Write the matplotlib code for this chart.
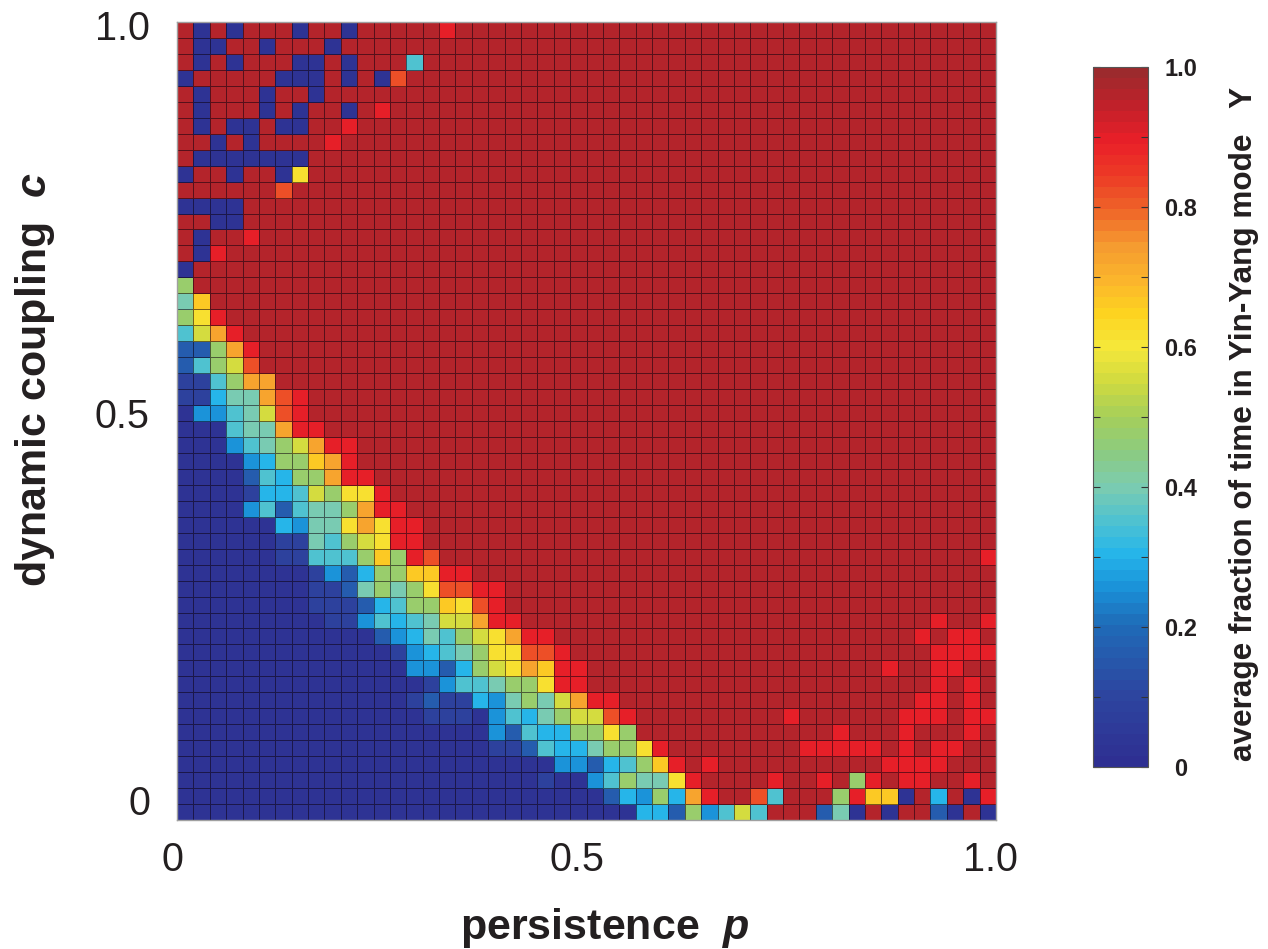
import numpy as np
import matplotlib
matplotlib.use("Agg")
import matplotlib.pyplot as plt
from matplotlib.colors import LinearSegmentedColormap

plt.rcParams['font.family'] = ['Liberation Sans', 'DejaVu Sans']
plt.rcParams['mathtext.fontset'] = 'custom'
plt.rcParams['mathtext.bfit'] = 'Liberation Sans:italic:bold'

# value of each letter used in the rows below
LEVELS = {
    "B": 0.02, "b": 0.08, "m": 0.17, "c": 0.26, "s": 0.30, "t": 0.35, "g": 0.40, "l": 0.48,
    "y": 0.55, "Y": 0.62, "o": 0.67, "O": 0.73, "e": 0.82, "r": 0.90, "R": 0.955,
}

# rows from c = 1.0 (top) down to c = 0, 50 columns in groups of ten
Y_ROWS = [
    "RBRBRRRBRR BRRRRRrRRR RRRRRRRRRR RRRRRRRRRR RRRRRRRRRR",
    "RBBRRBRRRB RRRRRRRRRR RRRRRRRRRR RRRRRRRRRR RRRRRRRRRR",
    "RBRBRRRBBR BRRRtRRRRR RRRRRRRRRR RRRRRRRRRR RRRRRRRRRR",
    "BRRRRRBBBR BRBeRRRRRR RRRRRRRRRR RRRRRRRRRR RRRRRRRRRR",
    "RBRRRBRRBR RRRRRRRRRR RRRRRRRRRR RRRRRRRRRR RRRRRRRRRR",
    "RBRRRBRBRR BRrRRRRRRR RRRRRRRRRR RRRRRRRRRR RRRRRRRRRR",
    "RBRBBRBBRR rRRRRRRRRR RRRRRRRRRR RRRRRRRRRR RRRRRRRRRR",
    "RRBRBRRRRr RRRRRRRRRR RRRRRRRRRR RRRRRRRRRR RRRRRRRRRR",
    "RBBBBBBBRR RRRRRRRRRR RRRRRRRRRR RRRRRRRRRR RRRRRRRRRR",
    "BRRBRRBYRR RRRRRRRRRR RRRRRRRRRR RRRRRRRRRR RRRRRRRRRR",
    "RRRRRReRRR RRRRRRRRRR RRRRRRRRRR RRRRRRRRRR RRRRRRRRRR",
    "BBBBRRRRRR RRRRRRRRRR RRRRRRRRRR RRRRRRRRRR RRRRRRRRRR",
    "RRBBRRRRRR RRRRRRRRRR RRRRRRRRRR RRRRRRRRRR RRRRRRRRRR",
    "RBRRrRRRRR RRRRRRRRRR RRRRRRRRRR RRRRRRRRRR RRRRRRRRRR",
    "RBrRRRRRRR RRRRRRRRRR RRRRRRRRRR RRRRRRRRRR RRRRRRRRRR",
    "BRRRRRRRRR RRRRRRRRRR RRRRRRRRRR RRRRRRRRRR RRRRRRRRRR",
    "lRRRRRRRRR RRRRRRRRRR RRRRRRRRRR RRRRRRRRRR RRRRRRRRRR",
    "goRRRRRRRR RRRRRRRRRR RRRRRRRRRR RRRRRRRRRR RRRRRRRRRR",
    "lYrRRRRRRR RRRRRRRRRR RRRRRRRRRR RRRRRRRRRR RRRRRRRRRR",
    "tyOrRRRRRR RRRRRRRRRR RRRRRRRRRR RRRRRRRRRR RRRRRRRRRR",
    "mmlOrRRRRR RRRRRRRRRR RRRRRRRRRR RRRRRRRRRR RRRRRRRRRR",
    "mtlyeRRRRR RRRRRRRRRR RRRRRRRRRR RRRRRRRRRR RRRRRRRRRR",
    "bbtlOORRRR RRRRRRRRRR RRRRRRRRRR RRRRRRRRRR RRRRRRRRRR",
    "bbsggOerRR RRRRRRRRRR RRRRRRRRRR RRRRRRRRRR RRRRRRRRRR",
    "BcctgyerRR RRRRRRRRRR RRRRRRRRRR RRRRRRRRRR RRRRRRRRRR",
    "BBBtggOrrR RRRRRRRRRR RRRRRRRRRR RRRRRRRRRR RRRRRRRRRR",
    "BBBctglyOr rRRRRRRRRR RRRRRRRRRR RRRRRRRRRR RRRRRRRRRR",
    "BBBBcslloO rRRRRRRRRR RRRRRRRRRR RRRRRRRRRR RRRRRRRRRR",
    "BBBBmtsllO rrRRRRRRRR RRRRRRRRRR RRRRRRRRRR RRRRRRRRRR",
    "BBBBbsstyl YYrRRRRRRR RRRRRRRRRR RRRRRRRRRR RRRRRRRRRR",
    "BBBBctmtgg lOrrRRRRRR RRRRRRRRRR RRRRRRRRRR RRRRRRRRRR",
    "BBBBBBscgg YOYrrRRRRR RRRRRRRRRR RRRRRRRRRR RRRRRRRRRR",
    "BBBBBBbbgt lyYrrRRRRR RRRRRRRRRR RRRRRRRRRR RRRRRRRRRR",
    "BBBBBBbbtt tlolreRRRR RRRRRRRRRR RRRRRRRRRR RRRRRRRRRr",
    "BBBBBBBBbc mslloorrRR RRRRRRRRRR RRRRRRRRRR RRRRRRRRRR",
    "BBBBBBBBbb mglglYeerr RRRRRRRRRR RRRRRRRRRR RRRRRRRRRR",
    "BBBBBBBBbb bmstlloYer RRRRRRRRRR RRRRRRRRRR RRRRRRRRRR",
    "BBBBBBBBBb bctstgyyOr rRRRRRRRRR RRRRRRRRRR RRRRRRrRRr",
    "BBBBBBBBBB BBmcsgtlyY OrrRRRRRRR RRRRRRRRRR RRRRRrRrrR",
    "BBBBBBBBBB BBBbcstglY YeerRRRRRR RRRRRRRRRR RRRRRRrrrr",
    "BBBBBBBBBB BBBBccmsly YOorrRRRRR RRRRRRRRRR RRRrRRrrRR",
    "BBBBBBBBBB BBBBBbcttg llYrrRRRRR RRRRRRRRRR RRRRRRrRrR",
    "BBBBBBBBBB BBBBbmbbsc glgyOrrRRR RRRRRRRRRR RRRRRrrRrR",
    "BBBBBBBBBB BBBBBbbbBc tsglyyerRR RRRRRRRrRR RRRRrrrRrr",
    "BBBBBBBBBB BBBBBBBBBc mtssllYlRR RRRRRRRRRR rRRRrRRRrR",
    "BBBBBBBBBB BBBBBBBBBb bmtssgllYr RRRRRRRRrr rrrRrRrrRR",
    "BBBBBBBBBB BBBBBBBBBB BBBccmstlo rRrRRRRRRR RRRrrrrRRR",
    "BBBBBBBBBB BBBBBBBBBB BBbBBctlgg YrRRRRrRRr RlrRrrRRrR",
    "BBBBBBBBBB BBBBBBBBBB BBBBBBmscl sOrRRetRRR lrooBRsRBr",
    "BBBBBBBBBB BBBBBBBBBB BBBBBBBBss mlctytRRRm gBRBRRmBRB",
]

CMAP_POS = [0, .1, .2, .25, .3, .35, .4, .45, .5, .55, .6, .65, .7, .75, .8, .85, .9, .95, 1]
CMAP_COLORS = ["#2e2f92", "#2d46a0", "#1f6cb8", "#1a90d8", "#25b5ea", "#50c2d0", "#7cccb0",
               "#8ccb80", "#a5cf5a", "#d0da40", "#f5e83a", "#fdd420", "#fbb42c", "#f59a30",
               "#ef6428", "#ec3a26", "#ea1f28", "#c2212a", "#9c2a2d"]

CBAR_TICKS = [0, 0.2, 0.4, 0.6, 0.8, 1.0]
CBAR_LABELS = ["0", "0.2", "0.4", "0.6", "0.8", "1.0"]

W, H = 1268, 949
values = np.array([[LEVELS[ch] for ch in row.replace(" ", "")] for row in Y_ROWS])[::-1]
edges = np.linspace(0, 1, values.shape[1] + 1)

cmap = LinearSegmentedColormap.from_list("yinyang", list(zip(CMAP_POS, CMAP_COLORS)), N=64)

fig = plt.figure(figsize=(W / 100, H / 100), dpi=100, facecolor="white")
ax = fig.add_axes([177 / W, 1 - 820 / H, 819 / W, 798 / H])
mesh = ax.pcolormesh(edges, edges, values, cmap=cmap, vmin=0, vmax=1,
                     edgecolors=(0.05, 0, 0.05, 0.55), linewidth=0.7)
ax.set_xlim(0, 1)
ax.set_ylim(0, 1)
ax.set_xticks([])
ax.set_yticks([])
for spine in ax.spines.values():
    spine.set_color("#a0a0a0")
    spine.set_linewidth(1.0)

# main axis numbers sit off the tick positions in the original, so place them by hand
for x, label in [(172, "0"), (577, "0.5"), (990, "1.0")]:
    fig.text(x / W, 1 - 860 / H, label, fontsize=28.5, ha="center", va="center", color="#231f20")
for y, label in [(29, "1.0"), (417, "0.5"), (804, "0")]:
    fig.text(150 / W, 1 - y / H, label, fontsize=28.5, ha="right", va="center", color="#231f20")

fig.text(605 / W, 1 - 928 / H, r"persistence  $\mathbfit{p}$", fontsize=31, fontweight="bold",
         ha="center", va="center", color="#231f20")
fig.text(35 / W, 1 - 380 / H, r"dynamic coupling  $\mathbfit{c}$", fontsize=31, fontweight="bold",
         rotation=90, ha="center", va="center", color="#231f20")

cax = fig.add_axes([1093 / W, 1 - 767 / H, 55 / W, 700 / H])
cbar = fig.colorbar(mesh, cax=cax, ticks=CBAR_TICKS)
cbar.ax.set_yticklabels(CBAR_LABELS, fontsize=17, fontweight="bold", color="#231f20", ha="center")
cbar.ax.yaxis.set_ticks(np.arange(0.1, 1.0, 0.2), minor=True)
cbar.ax.tick_params(which="both", direction="in", length=5, width=0.8, left=True, right=True,
                    color="#333333", pad=23.5)
cbar.outline.set_edgecolor("#555555")
cbar.outline.set_linewidth(0.8)

fig.text(1244 / W, 1 - 424 / H, "average fraction of time in Yin-Yang mode   Y", fontsize=22.7,
         fontweight="bold", rotation=90, ha="center", va="center", color="#231f20")

fig.savefig("out.png", dpi=100, facecolor="white")
